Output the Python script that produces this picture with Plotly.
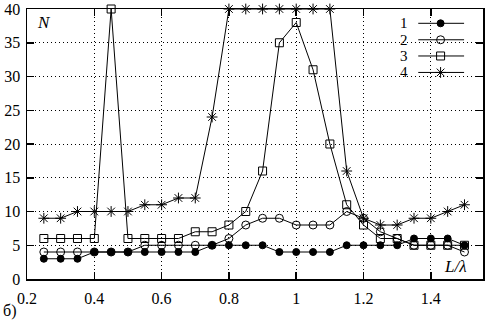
import plotly.graph_objects as go

# ---- data ----
x_vals = [0.25, 0.30, 0.35, 0.40, 0.45, 0.50, 0.55, 0.60, 0.65, 0.70, 0.75, 0.80, 0.85,
          0.90, 0.95, 1.00, 1.05, 1.10, 1.15, 1.20, 1.25, 1.30, 1.35, 1.40, 1.45, 1.50]
n1 = [3, 3, 3, 4, 4, 4, 4, 4, 4, 4, 5, 5, 5, 5, 4, 4, 4, 4, 5, 5, 5, 5, 6, 6, 6, 5]
n2 = [4, 4, 4, 4, 4, 4, 5, 5, 5, 5, 5, 6, 8, 9, 9, 8, 8, 8, 10, 9, 7, 6, 5, 5, 5, 4]
n3 = [6, 6, 6, 6, 40, 6, 6, 6, 6, 7, 7, 8, 10, 16, 35, 38, 31, 20, 11, 8, 6, 6, 5, 5, 5, 5]
n4 = [9, 9, 10, 10, 10, 10, 11, 11, 12, 12, 24, 40, 40, 40, 40, 40, 40, 40, 16, 9, 8, 8, 9, 9, 10, 11]
series_names = ["1", "2", "3", "4"]
x_ticks = [0.2, 0.4, 0.6, 0.8, 1.0, 1.2, 1.4]
x_tick_text = ["0.2", "0.4", "0.6", "0.8", "1", "1.2", "1.4"]
y_ticks = [0, 5, 10, 15, 20, 25, 30, 35, 40]

# ---- styles ----
FONT = "Liberation Serif"
styles = [
    dict(symbol="circle", size=7, color="black", line=dict(color="black", width=1)),
    dict(symbol="circle-open", size=8, color="black", line=dict(color="black", width=1)),
    dict(symbol="square-open", size=8, color="black", line=dict(color="black", width=1)),
    dict(symbol="asterisk-open", size=9, color="black", line=dict(color="black", width=1)),
]

fig = go.Figure()
for name, ys, st in zip(series_names, [n1, n2, n3, n4], styles):
    fig.add_trace(go.Scatter(
        x=x_vals, y=ys, mode="lines+markers", name=name,
        line=dict(color="black", width=1), marker=st,
        cliponaxis=False, showlegend=False,
    ))

# ---- manual legend (text left of sample, like the original) ----
leg_y = [0.947, 0.886, 0.826, 0.765]
leg_x0, leg_x1, leg_xm, leg_tx = 0.858, 0.9585, 0.907, 0.838
for name, st, ly in zip(series_names, styles, leg_y):
    fig.add_trace(go.Scatter(
        x=[leg_x0, leg_x1], y=[ly, ly], mode="lines", xaxis="x2", yaxis="y2",
        line=dict(color="black", width=1), showlegend=False, hoverinfo="skip"))
    fig.add_trace(go.Scatter(
        x=[leg_xm], y=[ly], mode="markers", xaxis="x2", yaxis="y2",
        marker=st, showlegend=False, hoverinfo="skip", cliponaxis=False))
    fig.add_annotation(x=leg_tx, y=ly, xref="paper", yref="paper", text=name,
                       showarrow=False, xanchor="right", yanchor="middle", borderpad=0,
                       font=dict(family=FONT, size=15, color="black"))

fig.add_annotation(x=0.018, y=0.95, xref="paper", yref="paper", text="<i>N</i>",
                   showarrow=False, xanchor="left", yanchor="middle",
                   font=dict(family=FONT, size=17, color="black"))
fig.add_annotation(x=0.94, y=0.045, xref="paper", yref="paper", text="<i>L/λ</i>",
                   showarrow=False, xanchor="center", yanchor="middle",
                   font=dict(family=FONT, size=17, color="black"))
fig.add_annotation(x=-0.058, y=-0.12, xref="paper", yref="paper", text="б)",
                   showarrow=False, xanchor="left", yanchor="middle",
                   font=dict(family=FONT, size=16, color="black"))

axis_common = dict(
    showline=True, linecolor="black", linewidth=1.5, mirror="ticks",
    ticks="inside", ticklen=7, tickwidth=1.5, tickcolor="black",
    showgrid=True, gridcolor="black", gridwidth=1, griddash="1px,3px",
    zeroline=False, tickfont=dict(family=FONT, size=16, color="black"),
    ticklabeloverflow="allow",
)
fig.update_layout(
    width=486, height=324,
    margin=dict(l=27, r=1, t=6, b=45),
    paper_bgcolor="white", plot_bgcolor="white",
    showlegend=False, hovermode=False,
    xaxis=dict(range=[0.2, 1.555], tickvals=x_ticks, ticktext=x_tick_text,
               ticklabelstandoff=4, **axis_common),
    yaxis=dict(range=[0, 40], tickvals=y_ticks, ticklabelstandoff=2, **axis_common),
    xaxis2=dict(overlaying="x", range=[0, 1], visible=False, anchor="y2"),
    yaxis2=dict(overlaying="y", range=[0, 1], visible=False, anchor="x2"),
)

fig.write_html("out.html", config={"displayModeBar": False, "staticPlot": True},
               post_script="document.body.style.margin='0';")
